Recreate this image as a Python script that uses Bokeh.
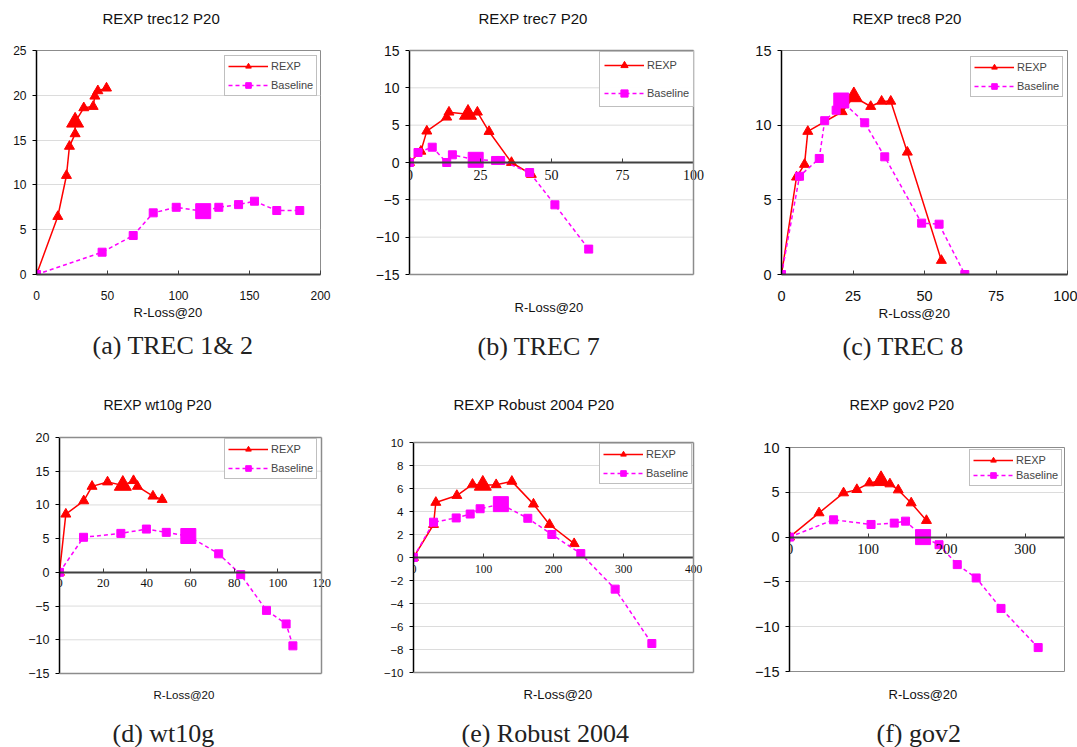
from bokeh.plotting import figure
from bokeh.layouts import column, row
from bokeh.models import (Range1d, FixedTicker, Title, Legend, LegendItem,
                          LabelSet, ColumnDataSource)
from bokeh.embed import file_html
from bokeh.resources import INLINE

# ---------------- data ----------------
series_names = ["REXP", "Baseline"]
x_axis_label = "R-Loss@20"

# (a) trec12
a_title = "REXP trec12 P20"
a_caption = "(a) TREC 1& 2"
a_rexp_x = [0, 15.0, 21.1, 23.2, 27.2, 27.2, 33.3, 39.9, 41.1, 43.2, 49.3]
a_rexp_y = [0, 6.47, 11.05, 14.3, 15.7, 17.0, 18.6, 18.75, 19.9, 20.5, 20.8]
a_base_x = [0, 46.2, 68.1, 82.2, 98.4, 117.4, 128.4, 142.3, 153.5, 169.2, 185.4]
a_base_y = [0, 2.49, 4.35, 6.88, 7.5, 7.07, 7.5, 7.8, 8.18, 7.14, 7.14]
a_xticks = [0, 50, 100, 150, 200]
a_yticks = [0, 5, 10, 15, 20, 25]

# (b) trec7
b_title = "REXP trec7 P20"
b_caption = "(b) TREC 7"
b_rexp_x = [0, 4.0, 6.1, 13.1, 13.9, 20.6, 23.9, 28.0, 35.9, 42.9]
b_rexp_y = [0, 1.5, 4.2, 6.07, 6.74, 6.45, 6.74, 4.15, 0.0, -1.6]
b_base_x = [0, 3.0, 8.0, 13.1, 15.1, 23.3, 30.3, 32.1, 42.3, 51.2, 63.1]
b_base_y = [0, 1.34, 2.05, 0.0, 1.03, 0.36, 0.27, 0.27, -1.34, -5.67, -11.6]
b_xticks = [0, 25, 50, 75, 100]
b_yticks = [-15, -10, -5, 0, 5, 10, 15]

# (c) trec8
c_title = "REXP trec8 P20"
c_caption = "(c) TREC 8"
c_rexp_x = [0, 5.25, 8.05, 9.2, 21.2, 25.3, 31.2, 35.0, 38.2, 44.0, 55.9]
c_rexp_y = [0, 6.52, 7.37, 9.58, 10.9, 11.9, 11.25, 11.6, 11.6, 8.19, 0.94]
c_base_x = [0, 6.3, 13.2, 15.1, 19.1, 20.9, 29.1, 36.1, 49.0, 55.1, 64.1]
c_base_y = [0, 6.58, 7.77, 10.3, 11.0, 11.65, 10.16, 7.88, 3.44, 3.37, 0.0]
c_xticks = [0, 25, 50, 75, 100]
c_yticks = [0, 5, 10, 15]

# (d) wt10g
d_title = "REXP wt10g P20"
d_caption = "(d) wt10g"
d_rexp_x = [0, 2.9, 11.1, 14.9, 22.0, 29.0, 33.9, 35.7, 42.8, 47.0]
d_rexp_y = [0, 8.63, 10.6, 12.75, 13.4, 12.9, 13.6, 12.75, 11.3, 10.8]
d_base_x = [0, 11.0, 28.1, 39.8, 48.9, 59.0, 72.9, 83.0, 94.8, 103.8, 106.9]
d_base_y = [0, 5.2, 5.78, 6.42, 5.93, 5.39, 2.75, -0.34, -5.64, -7.65, -10.9]
d_xticks = [0, 20, 40, 60, 80, 100, 120]
d_yticks = [-15, -10, -5, 0, 5, 10, 15, 20]

# (e) Robust 2004
e_title = "REXP Robust 2004 P20"
e_caption = "(e) Robust 2004"
e_rexp_x = [0, 28.6, 31.9, 61.9, 84.3, 99.0, 118.1, 140.5, 171.4, 194.3, 229.5]
e_rexp_y = [0, 2.87, 4.79, 5.39, 6.36, 6.28, 6.33, 6.62, 4.64, 2.87, 1.2]
e_base_x = [0, 28.6, 61.0, 81.0, 95.2, 124.8, 163.3, 197.6, 239.0, 288.1, 340.5]
e_base_y = [0, 3.07, 3.44, 3.78, 4.24, 4.64, 3.41, 2.0, 0.34, -2.75, -7.48]
e_xticks = [0, 100, 200, 300, 400]
e_yticks = [-10, -8, -6, -4, -2, 0, 2, 4, 6, 8, 10]

# (f) gov2
f_title = "REXP gov2 P20"
f_caption = "(f) gov2"
f_rexp_x = [0, 37.6, 68.8, 85.7, 101.7, 116.5, 127.8, 138.4, 154.9, 174.3]
f_rexp_y = [0, 2.7, 4.93, 5.3, 6.04, 6.3, 5.93, 5.26, 3.81, 1.85]
f_base_x = [0, 56.1, 103.8, 133.3, 147.7, 170.0, 190.3, 213.5, 237.6, 269.2, 316.5]
f_base_y = [0, 1.93, 1.41, 1.56, 1.78, 0.0, -0.85, -3.07, -4.56, -7.96, -12.33]
f_xticks = [0, 100, 200, 300]
f_yticks = [-15, -10, -5, 0, 5, 10]

# highlighted (selected) point index in each series
best_index = 5

# ---------------- styling / layout ----------------
RED = "#ff0000"
MAG = "#ff00ff"
SANS = "Liberation Sans"
SERIF = "Liberation Serif"
BORDER = "#8c8c8c"
GRID = "#dcdcdc"

# sp0: gap title->frame, sp1: gap frame/axis->x label, sp2: gap x label->caption
# ext: extra px of canvas right of the plot box (lets the last tick label spill out)
# lg: legend bottom-left corner, px from the plot box bottom-left corner
panels = [
    dict(t=a_title, cap=a_caption, rx=a_rexp_x, ry=a_rexp_y, bx=a_base_x, by=a_base_y,
         xt=a_xticks, yt=a_yticks, xr=(0, 200), yr=(0, 25), axis0=False, ext=0,
         W=360, H=370, L=36, R=40, T=50, B=96, tfs=15, toff=66, sp0=22,
         xlfs=13, xloff=97, sp1=0, sp2=7.5, capoff=56, tick=12,
         lgsp=5, lgpad=3, lgh=14, lg=(188, 178)),
    dict(t=b_title, cap=b_caption, rx=b_rexp_x, ry=b_rexp_y, bx=b_base_x, by=b_base_y,
         xt=b_xticks, yt=b_yticks, xr=(0, 100), yr=(-15, 15), axis0=True, ext=14,
         W=360, H=370, L=49, R=27, T=50, B=96, tfs=15, toff=69, sp0=22,
         xlfs=13, xloff=105, sp1=21, sp2=13.5, capoff=68, tick=14,
         lgsp=10, lgpad=4, lgh=18, lg=(190, 167)),
    dict(t=c_title, cap=c_caption, rx=c_rexp_x, ry=c_rexp_y, bx=c_base_x, by=c_base_y,
         xt=c_xticks, yt=c_yticks, xr=(0, 100), yr=(0, 15), axis0=False, ext=0,
         W=357, H=370, L=61, R=10, T=50, B=96, tfs=15, toff=71, sp0=22,
         xlfs=13.5, xloff=97, sp1=0, sp2=7.5, capoff=61, tick=14.5,
         lgsp=5, lgpad=3, lgh=14, lg=(189, 177)),
    dict(t=d_title, cap=d_caption, rx=d_rexp_x, ry=d_rexp_y, bx=d_base_x, by=d_base_y,
         xt=d_xticks, yt=d_yticks, xr=(0, 120), yr=(-15, 20), axis0=True, ext=13,
         W=360, H=377, L=59, R=39, T=67, B=72, tfs=14, toff=44, sp0=23.5,
         xlfs=11.5, xloff=94, sp1=11, sp2=14, capoff=53, tick=12.5,
         lgsp=5, lgpad=3, lgh=14, lg=(165, 194)),
    dict(t=e_title, cap=e_caption, rx=e_rexp_x, ry=e_rexp_y, bx=e_base_x, by=e_base_y,
         xt=e_xticks, yt=e_yticks, xr=(0, 400), yr=(-10, 10), axis0=True, ext=13,
         W=360, H=377, L=53, R=27, T=72, B=72, tfs=15, toff=40, sp0=28,
         xlfs=13, xloff=110, sp1=10, sp2=13, capoff=48, tick=11.5,
         lgsp=5, lgpad=3, lgh=14, lg=(186, 188)),
    dict(t=f_title, cap=f_caption, rx=f_rexp_x, ry=f_rexp_y, bx=f_base_x, by=f_base_y,
         xt=f_xticks, yt=f_yticks, xr=(0, 350), yr=(-15, 10), axis0=True, ext=0,
         W=357, H=377, L=69, R=13, T=77, B=73, tfs=14.5, toff=60, sp0=33,
         xlfs=13, xloff=99, sp1=11, sp2=13, capoff=87, tick=14.5,
         lgsp=1, lgpad=3, lgh=14, lg=(180, 185)),
]

SPACER_H = 1.5  # own height of a 1px blank title


def spacer(h):
    return Title(text=" ", text_font_size="1px", standoff=max(h - SPACER_H, 0))


def make_panel(s):
    x0, x1 = s["xr"]
    y0, y1 = s["yr"]
    ext = s["ext"]
    box_w = s["W"] - s["L"] - s["R"]
    x_end = x1 + ext * (x1 - x0) / box_w
    p = figure(width=s["W"], height=s["H"], output_backend="svg", toolbar_location=None,
               title=None,
               x_range=Range1d(x0, x_end), y_range=Range1d(y0, y1),
               min_border_left=s["L"], min_border_right=s["R"] - ext,
               min_border_top=s["T"], min_border_bottom=s["B"])
    p.background_fill_color = "white"
    p.border_fill_color = "white"

    # chart title (a blank spacer sits between it and the plot area)
    p.add_layout(spacer(s["sp0"]), "above")
    p.add_layout(Title(text=s["t"], text_font=SANS, text_font_size=f"{s['tfs']}px",
                       text_font_style="normal", text_color="#111111",
                       align="left", offset=s["toff"], standoff=0), "above")

    # axes
    xa = p.xaxis[0]
    ya = p.yaxis[0]
    xa.ticker = FixedTicker(ticks=s["xt"])
    ya.ticker = FixedTicker(ticks=s["yt"])
    for ax in (xa, ya):
        ax.major_label_text_font = SANS
        ax.major_label_text_font_size = f"{s['tick']}px"
        ax.major_label_text_color = "#111111"
        ax.minor_tick_line_color = None
    xa.axis_line_color = "#404040"
    xa.axis_line_width = 2
    xa.major_tick_line_color = "#404040"
    xa.major_tick_in = 4
    xa.major_tick_out = 0
    ya.axis_line_color = "#000000"
    ya.axis_line_width = 1.5
    ya.major_tick_line_color = "#000000"
    ya.major_tick_in = 0
    ya.major_tick_out = 4
    ya.major_label_standoff = 6
    if s["axis0"]:
        # axis crosses at y = 0
        xa.fixed_location = 0
        xa.bounds = (x0, x1)
        xa.major_label_text_color = None
        src = ColumnDataSource(dict(x=s["xt"], y=[0] * len(s["xt"]),
                                    t=[str(v) for v in s["xt"]]))
        p.add_layout(LabelSet(x="x", y="y", text="t", source=src,
                              text_font=SANS, text_font_size=f"{s['tick']}px",
                              text_color="#111111", text_align="center",
                              text_baseline="top", y_offset=-7))
    else:
        xa.major_label_standoff = 16

    p.xgrid.visible = False
    if ext > 0:
        # plot box and grid drawn up to the axis end only
        p.outline_line_color = None
        p.ygrid.visible = False
        p.segment(x0=[x0] * len(s["yt"]), x1=[x1] * len(s["yt"]),
                  y0=s["yt"], y1=s["yt"], line_color=GRID, line_width=1, level="underlay")
        p.segment(x0=[x0, x1, x0], y0=[y1, y0, y0], x1=[x1, x1, x1], y1=[y1, y1, y0],
                  line_color=BORDER, line_width=1.5, level="overlay")
    else:
        p.outline_line_color = BORDER
        p.outline_line_width = 1
        p.ygrid.grid_line_color = GRID
        p.ygrid.grid_line_width = 1

    # series
    rl = p.line(s["rx"], s["ry"], line_color=RED, line_width=1.5)
    rs = p.scatter(s["rx"], s["ry"], marker="triangle", size=10,
                   fill_color=RED, line_color=RED)
    bl = p.line(s["bx"], s["by"], line_color=MAG, line_width=1.5, line_dash="4 3")
    bs = p.scatter(s["bx"], s["by"], marker="square", size=8,
                   fill_color=MAG, line_color=MAG)
    k = best_index
    p.scatter([s["rx"][k]], [s["ry"][k]], marker="triangle", size=17,
              fill_color=RED, line_color=RED)
    p.scatter([s["bx"][k]], [s["by"][k]], marker="square", size=15,
              fill_color=MAG, line_color=MAG)

    legend = Legend(items=[LegendItem(label=series_names[0], renderers=[rl, rs]),
                           LegendItem(label=series_names[1], renderers=[bl, bs])],
                    location=s["lg"])
    legend.margin = 0
    legend.padding = s["lgpad"]
    legend.spacing = s["lgsp"]
    legend.glyph_width = 40
    legend.glyph_height = s["lgh"]
    legend.label_height = s["lgh"]
    legend.label_standoff = 3
    legend.label_text_font = SANS
    legend.label_text_font_size = "11px"
    legend.border_line_color = "#808080"
    legend.border_line_width = 1
    legend.background_fill_color = "white"
    p.add_layout(legend)

    # x label and caption as titles below, separated by blank spacers
    if s["sp1"] > 0:
        p.add_layout(spacer(s["sp1"]), "below")
    p.add_layout(Title(text=x_axis_label, text_font=SANS, text_font_size=f"{s['xlfs']}px",
                       text_font_style="normal", align="left", offset=s["xloff"],
                       standoff=0, text_color="#111111"), "below")
    p.add_layout(spacer(s["sp2"]), "below")
    p.add_layout(Title(text=s["cap"], text_font=SERIF, text_font_size="26px",
                       text_font_style="normal", align="left", offset=s["capoff"],
                       standoff=0, text_color="#222222"), "below")
    return p


figs = [make_panel(s) for s in panels]
layout = column(row(*[column(f) for f in figs[:3]], spacing=0),
                row(*[column(f) for f in figs[3:]], spacing=0), spacing=0)

with open("out.html", "w") as fh:
    fh.write(file_html(layout, INLINE))
